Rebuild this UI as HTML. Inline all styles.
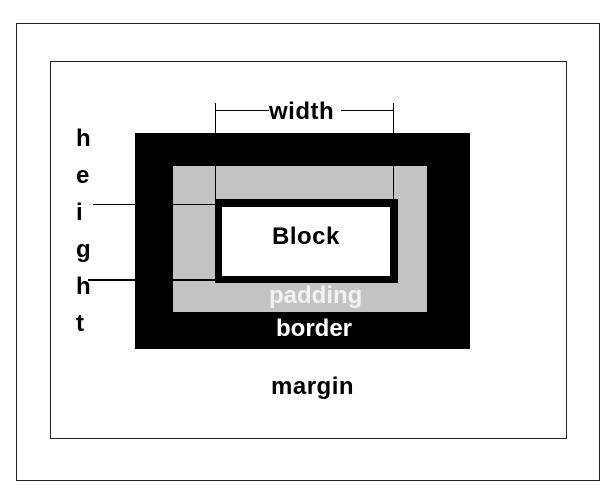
<!DOCTYPE html>
<html><head><style>
body{margin:0;width:614px;height:498px;background:#fff;position:relative;overflow:hidden;font-family:"Liberation Sans",sans-serif;font-weight:bold}
div{position:absolute;box-sizing:border-box}
.t{white-space:nowrap;line-height:1}
</style></head><body>
<div style="left:16px;top:23px;width:584px;height:458px;border:1.5px solid #222"></div>
<div style="left:50px;top:61px;width:517px;height:378px;border:1.5px solid #222"></div>
<div style="left:135px;top:133px;width:335px;height:216px;background:#000"></div>
<div style="left:173px;top:166px;width:254px;height:146px;background:#c3c3c3"></div>
<div style="left:215px;top:199px;width:183px;height:84px;background:#000"></div>
<div style="left:222px;top:207px;width:168px;height:69px;background:#fff"></div>
<div style="left:215px;top:103px;width:1px;height:97px;background:#000"></div>
<div style="left:393px;top:103px;width:1px;height:97px;background:#000"></div>
<div style="left:215px;top:110px;width:54px;height:1px;background:#000"></div>
<div style="left:341px;top:110px;width:53px;height:1px;background:#000"></div>
<div style="left:93px;top:204px;width:42px;height:1px;background:#000"></div>
<div style="left:173px;top:204px;width:42px;height:1px;background:#000"></div>
<div style="left:88px;top:279px;width:47px;height:1.5px;background:#000"></div>
<div style="left:173px;top:279px;width:42px;height:1.5px;background:#000"></div>
<div class="t" style="left:269px;top:100px;font-size:24px;letter-spacing:0.5px">width</div>
<div class="t" style="left:272px;top:225px;font-size:24px;letter-spacing:0.5px">Block</div>
<div class="t" style="left:269px;top:284px;font-size:24px;color:#f2f2f2">padding</div>
<div class="t" style="left:276px;top:317px;font-size:24px;color:#fff">border</div>
<div class="t" style="left:271px;top:375px;font-size:24px;letter-spacing:0.5px">margin</div>
<div class="t" style="left:76px;top:120px;font-size:24px;line-height:37px;width:20px">h<br>e<br>i<br>g<br>h<br>t</div>
</body></html>
